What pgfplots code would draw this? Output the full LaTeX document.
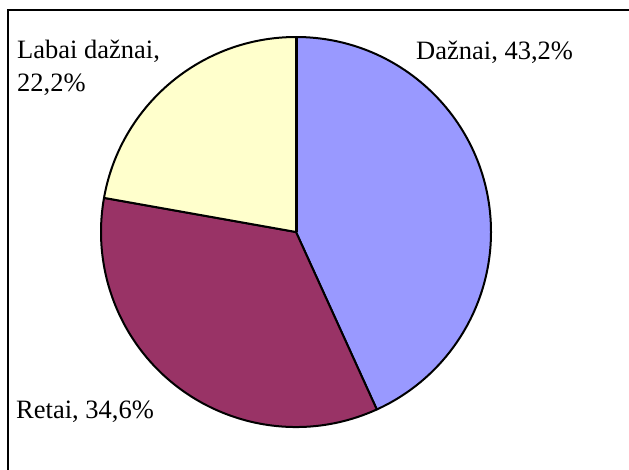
\documentclass[border=0pt]{standalone}
\usepackage{fontspec}
\setmainfont{Liberation Serif}
\usepackage{pgfplots}
\usepackage{pgfplotstable}
\pgfplotsset{compat=1.18}
\definecolor{pieA}{HTML}{9999FF}
\definecolor{pieB}{HTML}{993366}
\definecolor{pieC}{HTML}{FFFFCC}
\pgfplotstableread{
idx value
0 43.2
1 34.6
2 22.2
}\piedata
\pgfplotstablegetelem{0}{value}\of\piedata\let\vA\pgfplotsretval
\pgfplotstablegetelem{1}{value}\of\piedata\let\vB\pgfplotsretval
\pgfplotstablegetelem{2}{value}\of\piedata\let\vC\pgfplotsretval
\pgfmathsetmacro\aA{90-3.6*\vA}
\pgfmathsetmacro\aB{\aA-3.6*\vB}
\pgfmathsetmacro\aC{\aB-3.6*\vC}
\begin{document}%
\begin{tikzpicture}
\begin{axis}[
  anchor=south west, at={(0,0)},
  scale only axis, width=629bp, height=470bp,
  xmin=0, xmax=629, ymin=-470, ymax=0,
  axis lines=none, clip=false,
]
\addplot[draw=none] coordinates {(0,0) (629,-470)};
\draw[line width=2bp] (axis cs:8,-470) -- (axis cs:8,-10) -- (axis cs:629,-10);
\filldraw[fill=pieA, draw=black, line width=2bp, line join=round] (axis cs:296,-232) -- ++(90:195bp) arc[start angle=90, end angle=\aA, radius=195bp] -- cycle;
\filldraw[fill=pieB, draw=black, line width=2bp, line join=round] (axis cs:296,-232) -- ++(\aA:195bp) arc[start angle=\aA, end angle=\aB, radius=195bp] -- cycle;
\filldraw[fill=pieC, draw=black, line width=2bp, line join=round] (axis cs:296,-232) -- ++(\aB:195bp) arc[start angle=\aB, end angle=\aC, radius=195bp] -- cycle;
\draw[line width=1.5bp] (axis cs:297.5,-232) -- (axis cs:297.5,-37);
\node[anchor=base west, inner sep=0pt, font=\fontsize{26.5bp}{32bp}\selectfont] at (axis cs:416,-60) {Dažnai, 43,2\%};
\node[anchor=base west, inner sep=0pt, font=\fontsize{26.5bp}{32bp}\selectfont] at (axis cs:17,-59) {Labai dažnai,};
\node[anchor=base west, inner sep=0pt, font=\fontsize{26.5bp}{32bp}\selectfont] at (axis cs:17,-91) {22,2\%};
\node[anchor=base west, inner sep=0pt, font=\fontsize{26.5bp}{32bp}\selectfont] at (axis cs:16,-418) {Retai, 34,6\%};
\end{axis}
\pgfresetboundingbox
\useasboundingbox (0,0) rectangle (629bp,470bp);
\end{tikzpicture}%
\end{document}
